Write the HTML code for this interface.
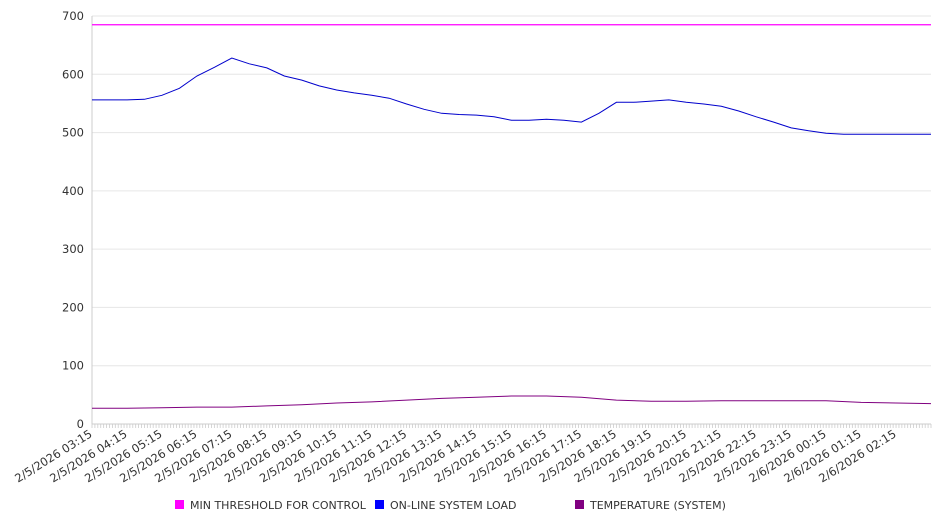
<!DOCTYPE html>
<html><head><meta charset="utf-8"><style>
body{margin:0;background:#fff;width:946px;height:526px;overflow:hidden;font-family:"DejaVu Sans","Liberation Sans",sans-serif}
</style></head><body>
<svg id="chart" width="946" height="526" xmlns="http://www.w3.org/2000/svg" font-family="DejaVu Sans, Liberation Sans, sans-serif"></svg>
<script>
const yTicks=[0,100,200,300,400,500,600,700];
const xLabels=["2/5/2026 03:15","2/5/2026 04:15","2/5/2026 05:15","2/5/2026 06:15","2/5/2026 07:15","2/5/2026 08:15","2/5/2026 09:15","2/5/2026 10:15","2/5/2026 11:15","2/5/2026 12:15","2/5/2026 13:15","2/5/2026 14:15","2/5/2026 15:15","2/5/2026 16:15","2/5/2026 17:15","2/5/2026 18:15","2/5/2026 19:15","2/5/2026 20:15","2/5/2026 21:15","2/5/2026 22:15","2/5/2026 23:15","2/6/2026 00:15","2/6/2026 01:15","2/6/2026 02:15"];
const thresholdValue=685;
const loadValues=[556,556,556,557,564,576,597,612,628,618,611,597,590,580,573,568,564,559,549,540,533,531,530,527,521,521,523,521,518,533,552,552,554,556,552,549,545,537,527,518,508,503,499,497,497,497,497,497,497];
const tempValues=[27,27,28,29,29,31,33,36,38,41,44,46,48,48,46,41,39,39,40,40,40,40,37,36,35];
const legendNames=["MIN THRESHOLD FOR CONTROL","ON-LINE SYSTEM LOAD","TEMPERATURE (SYSTEM)"];
const legendColors=["#ff00ff","#0000ff","#800080"];

const NS="http://www.w3.org/2000/svg";
const svg=document.getElementById('chart');
const L=92,R=931,T=16,B=424,HOURS=24;
const yS=v=>B-(v/700)*(B-T);
const xS=h=>L+h/HOURS*(R-L);
function mk(tag,a){const e=document.createElementNS(NS,tag);for(const k in a)e.setAttribute(k,a[k]);svg.appendChild(e);return e;}
yTicks.forEach(v=>{
  const g=mk('line',{x1:L,x2:R,y1:yS(v),y2:yS(v),stroke:'#e6e6e6','stroke-width':1});
  
  
  const t=mk('text',{x:84,y:yS(v)+4,'text-anchor':'end','font-size':11.5,fill:'#333'});
  t.textContent=v;
  
  
});
const ya=mk('line',{x1:L,x2:L,y1:T,y2:B,stroke:'#ccc'});


const xa=mk('line',{x1:L,x2:R,y1:B,y2:B,stroke:'#ccc'});


for(let i=0;i<=HOURS*12;i++){
  const x=xS(i/12);
  const tk=mk('line',{x1:x,x2:x,y1:B,y2:B+4,stroke:'#ccc','stroke-width':0.8});
  
  
}
xLabels.forEach((s,i)=>{
  const x=xS(i)+1;
  const t=mk('text',{x:x,y:B+12,'text-anchor':'end','font-size':11.5,fill:'#333',transform:`rotate(-32 ${x} ${B+12})`});
  t.textContent=s;
  
  
});
const th=mk('line',{x1:L,x2:R,y1:yS(thresholdValue),y2:yS(thresholdValue),stroke:legendColors[0],'stroke-width':1.2});


function path(vals,col,name){
  const step=HOURS/(vals.length-1);
  const d=vals.map((v,i)=>(i?'L':'M')+xS(i*step).toFixed(1)+','+yS(v).toFixed(1)).join(' ');
  const p=mk('path',{d:d,fill:'none',stroke:col,'stroke-width':1});
  
  
}
path(loadValues,'#0000cc','load-line');
path(tempValues,legendColors[2],'temperature-line');
const lx=[175,375,575];
legendNames.forEach((n,i)=>{
  const r=mk('rect',{x:lx[i],y:500,width:9,height:9,fill:legendColors[i]});
  
  
  const t=mk('text',{x:lx[i]+15,y:509,'font-size':11,fill:'#333'});
  t.textContent=n;
  
  
});
</script>
</body></html>
